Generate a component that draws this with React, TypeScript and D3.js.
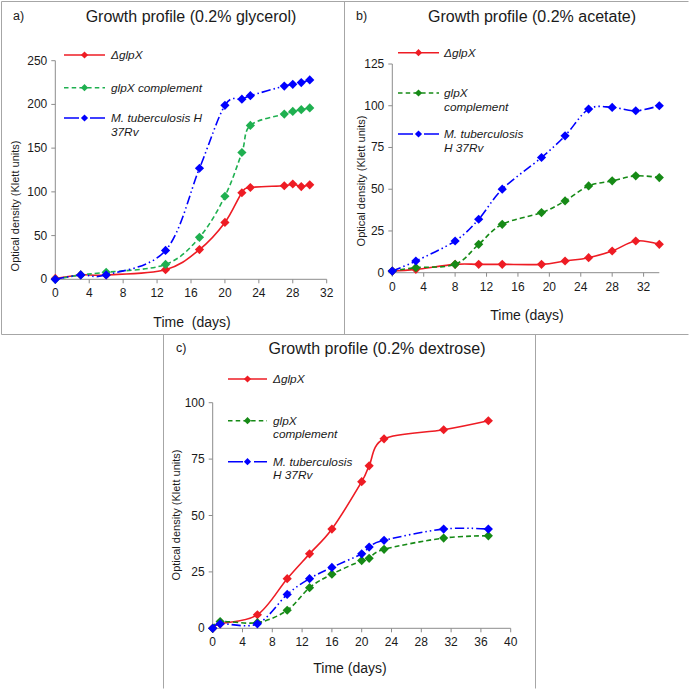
import React from "react";
import * as d3 from "d3";

// ---------- DATA ----------
const glycerolDays = [0, 3, 6, 13, 17, 20, 22, 23, 27, 28, 29, 30];
const glycerolDelta = [1, 5, 5, 11, 34, 65, 99, 105, 107, 109, 106, 108];
const glycerolComp = [0, 5, 8, 17, 48, 95, 145, 176, 189, 192, 194, 196];
const glycerolH37Rv = [0, 5, 5, 33, 127, 199, 206, 210, 221, 223, 225, 228];

const acetateDays = [0, 3, 8, 11, 14, 19, 22, 25, 28, 31, 34];
const acetateDelta = [1, 2, 5, 5, 5, 5, 7, 9, 13, 19, 17];
const acetateComp = [1, 3, 5, 17, 29, 36, 43, 52, 55, 58, 57];
const acetateH37Rv = [1, 7, 19, 32, 50, 69, 82, 98, 99, 97, 100];

const dextroseDays = [0, 1, 6, 10, 13, 16, 20, 21, 23, 31, 37];
const dextroseDelta = [0, 2, 6, 22, 33, 44, 65, 72, 84, 88, 92];
const dextroseComp = [0, 3, 2.5, 8, 18, 24, 30, 31, 35, 40, 41];
const dextroseH37Rv = [0, 2, 2, 15, 22, 27, 33, 36, 39, 44, 44];

const glycerolXTicks = [0, 4, 8, 12, 16, 20, 24, 28, 32];
const glycerolYTicks = [0, 50, 100, 150, 200, 250];
const acetateXTicks = [0, 4, 8, 12, 16, 20, 24, 28, 32];
const acetateYTicks = [0, 25, 50, 75, 100, 125];
const dextroseXTicks = [0, 4, 8, 12, 16, 20, 24, 28, 32, 36, 40];
const dextroseYTicks = [0, 25, 50, 75, 100];

const panelTitles = [
  "Growth profile (0.2% glycerol)",
  "Growth profile (0.2% acetate)",
  "Growth profile (0.2% dextrose)",
];
const panelLetters = ["a)", "b)", "c)"];
const seriesNames = ["ΔglpX", "glpX complement", "M. tuberculosis H 37Rv"];

// ---------- STYLE ----------
const FONT = "'Liberation Sans', Arial, sans-serif";
const RED = "#ee1c24";
const GREEN_LIGHT = "#1fb050";
const GREEN_DARK = "#168a16";
const BLUE = "#0000ff";
const AXIS = "#8c8c8c";
const TEXT = "#1a1a1a";

function Diamond({ x, y, r, color }: { x: number; y: number; r: number; color: string }) {
  return (
    <path
      d={`M${x},${y - r}L${x + r},${y}L${x},${y + r}L${x - r},${y}Z`}
      fill={color}
    />
  );
}

type Series = { values: number[]; color: string; dash: string };

type LegendItem = { color: string; dash: string; lines: string[]; y: number };

function Panel(props: {
  days: number[];
  series: Series[];
  xDomain: [number, number];
  yDomain: [number, number];
  xRange: [number, number];
  yRange: [number, number];
  xTicks: number[];
  yTicks: number[];
  title: string;
  titleX: number;
  titleY: number;
  letter: string;
  letterX: number;
  xTitle: string;
  xTitleY: number;
  xTitleX: number;
  yTitleX: number;
  yTitleY: number;
  legend: LegendItem[];
  legendX0: number;
  legendX1: number;
  legendTextX: number;
}) {
  const x = d3.scaleLinear().domain(props.xDomain).range(props.xRange);
  const y = d3.scaleLinear().domain(props.yDomain).range(props.yRange);
  const line = d3
    .line<[number, number]>()
    .x((d) => x(d[0]))
    .y((d) => y(d[1]))
    .curve(d3.curveCatmullRom.alpha(0));
  const y0 = props.yRange[0];
  const x0 = props.xRange[0];
  return (
    <g>
      <text x={props.letterX} y={props.titleY} fontSize={12.5} fill={TEXT} dominantBaseline="central" fontFamily={FONT}>
        {props.letter}
      </text>
      <text x={props.titleX} y={props.titleY} fontSize={16} fill={TEXT} textAnchor="middle" dominantBaseline="central" fontFamily={FONT}>
        {props.title}
      </text>
      {/* axes */}
      <line x1={x0} x2={props.xRange[1]} y1={y0} y2={y0} stroke={AXIS} strokeWidth={1} />
      <line x1={x0} x2={x0} y1={y0} y2={props.yRange[1]} stroke={AXIS} strokeWidth={1} />
      {props.xTicks.map((t) => (
        <g key={"xt" + t}>
          <line x1={x(t)} x2={x(t)} y1={y0} y2={y0 + 4} stroke={AXIS} />
          <text x={x(t)} y={y0 + 14} fontSize={12} fill={TEXT} textAnchor="middle" dominantBaseline="central" fontFamily={FONT}>
            {t}
          </text>
        </g>
      ))}
      {props.yTicks.map((t) => (
        <g key={"yt" + t}>
          <line x1={x0 - 4} x2={x0} y1={y(t)} y2={y(t)} stroke={AXIS} />
          <text x={x0 - 8} y={y(t)} fontSize={12} fill={TEXT} textAnchor="end" dominantBaseline="central" fontFamily={FONT}>
            {t}
          </text>
        </g>
      ))}
      <text x={props.xTitleX} y={props.xTitleY} fontSize={14} fill={TEXT} textAnchor="middle" dominantBaseline="central" fontFamily={FONT} style={{ whiteSpace: "pre" }}>
        {props.xTitle}
      </text>
      <text
        transform={`translate(${props.yTitleX},${props.yTitleY}) rotate(-90)`}
        fontSize={11}
        fill={TEXT}
        textAnchor="middle"
        dominantBaseline="central"
        fontFamily={FONT}
      >
        Optical density (Klett units)
      </text>
      {/* series */}
      {props.series.map((s, i) => {
        const pts: [number, number][] = props.days.map((d, j) => [d, s.values[j]]);
        return (
          <g key={"s" + i}>
            <path d={line(pts) || ""} fill="none" stroke={s.color} strokeWidth={1.6} strokeDasharray={s.dash} />
            {pts.map((p, j) => (
              <Diamond key={j} x={x(p[0])} y={y(p[1])} r={4.6} color={s.color} />
            ))}
          </g>
        );
      })}
      {/* legend */}
      {props.legend.map((l, i) => (
        <g key={"l" + i}>
          <line x1={props.legendX0} x2={props.legendX1} y1={l.y} y2={l.y} stroke={l.color} strokeWidth={1.6} strokeDasharray={l.dash} />
          <Diamond x={(props.legendX0 + props.legendX1) / 2} y={l.y} r={3.6} color={l.color} />
          {l.lines.map((t, k) => (
            <text key={k} x={props.legendTextX} y={l.y + k * 13.5} fontSize={11.8} fontStyle="italic" fill={TEXT} dominantBaseline="central" fontFamily={FONT}>
              {t}
            </text>
          ))}
        </g>
      ))}
    </g>
  );
}

const DASH_GREEN = "5,3";
const DASH_BLUE = "9,3,1.5,3,1.5,3";
const LEG_GREEN = "4.5,3.2";
const LEG_BLUE = "15,11";

export default function App() {
  return (
    <svg
      width={689}
      height={689}
      style={{ position: "fixed", left: 0, top: 0, background: "#fff" }}
      fontFamily={FONT}
    >
      <rect x={0} y={0} width={689} height={689} fill="#fff" />
      {/* panel borders */}
      <g fill="none" stroke="#a6a6a6" strokeWidth={1}>
        <path d="M1.5,1.5H688.5" />
        <path d="M1.5,1.5V334.5H688.5" />
        <path d="M344.5,1.5V334.5" />
        <path d="M163.5,334.5V688.5" />
        <path d="M535.5,334.5V688.5" />
      </g>

      <Panel
        days={glycerolDays}
        series={[
          { values: glycerolDelta, color: RED, dash: "" },
          { values: glycerolComp, color: GREEN_LIGHT, dash: DASH_GREEN },
          { values: glycerolH37Rv, color: BLUE, dash: DASH_BLUE },
        ]}
        xDomain={[0, 32]}
        yDomain={[0, 250]}
        xRange={[55.3, 326.7]}
        yRange={[279.3, 60.7]}
        xTicks={glycerolXTicks}
        yTicks={glycerolYTicks}
        title={panelTitles[0]}
        titleX={191}
        titleY={16}
        letter={panelLetters[0]}
        letterX={13}
        xTitle={"Time  (days)"}
        xTitleX={192}
        xTitleY={322}
        yTitleX={15}
        yTitleY={206}
        legend={[
          { color: RED, dash: "", lines: [seriesNames[0]], y: 55 },
          { color: GREEN_LIGHT, dash: LEG_GREEN, lines: [seriesNames[1]], y: 87.7 },
          { color: BLUE, dash: LEG_BLUE, lines: ["M. tuberculosis H", "37Rv"], y: 118 },
        ]}
        legendX0={64}
        legendX1={105}
        legendTextX={111}
      />

      <Panel
        days={acetateDays}
        series={[
          { values: acetateDelta, color: RED, dash: "" },
          { values: acetateComp, color: GREEN_DARK, dash: DASH_GREEN },
          { values: acetateH37Rv, color: BLUE, dash: DASH_BLUE },
        ]}
        xDomain={[0, 34]}
        yDomain={[0, 125]}
        xRange={[392.3, 659.3]}
        yRange={[272.7, 64]}
        xTicks={acetateXTicks}
        yTicks={acetateYTicks}
        title={panelTitles[1]}
        titleX={532}
        titleY={16}
        letter={panelLetters[1]}
        letterX={356}
        xTitle={"Time (days)"}
        xTitleX={527}
        xTitleY={315}
        yTitleX={361}
        yTitleY={181}
        legend={[
          { color: RED, dash: "", lines: [seriesNames[0]], y: 52.7 },
          { color: GREEN_DARK, dash: LEG_GREEN, lines: ["glpX", "complement"], y: 93 },
          { color: BLUE, dash: LEG_BLUE, lines: ["M. tuberculosis", "H 37Rv"], y: 134 },
        ]}
        legendX0={398}
        legendX1={439}
        legendTextX={444}
      />

      <Panel
        days={dextroseDays}
        series={[
          { values: dextroseDelta, color: RED, dash: "" },
          { values: dextroseComp, color: GREEN_DARK, dash: DASH_GREEN },
          { values: dextroseH37Rv, color: BLUE, dash: DASH_BLUE },
        ]}
        xDomain={[0, 40]}
        yDomain={[0, 100]}
        xRange={[212.7, 510.7]}
        yRange={[628.3, 402.7]}
        xTicks={dextroseXTicks}
        yTicks={dextroseYTicks}
        title={panelTitles[2]}
        titleX={377}
        titleY={348}
        letter={panelLetters[2]}
        letterX={176}
        xTitle={"Time (days)"}
        xTitleX={350}
        xTitleY={668}
        yTitleX={176}
        yTitleY={515}
        legend={[
          { color: RED, dash: "", lines: [seriesNames[0]], y: 379 },
          { color: GREEN_DARK, dash: LEG_GREEN, lines: ["glpX", "complement"], y: 420.7 },
          { color: BLUE, dash: LEG_BLUE, lines: ["M. tuberculosis", "H 37Rv"], y: 461.7 },
        ]}
        legendX0={228}
        legendX1={267}
        legendTextX={273}
      />
    </svg>
  );
}
